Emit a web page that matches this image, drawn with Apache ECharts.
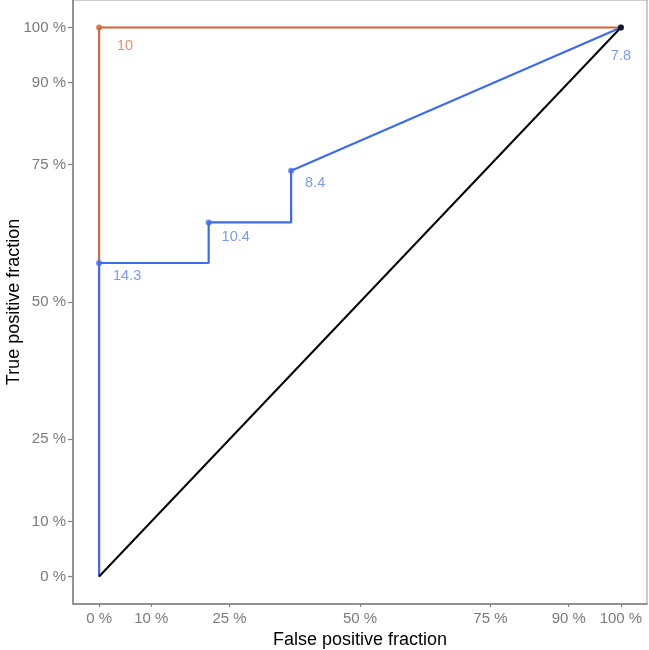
<!DOCTYPE html>
<html>
<head>
<meta charset="utf-8">
<script src="https://cdn.jsdelivr.net/npm/echarts@6/dist/echarts.min.js"></script>
<style>
  html, body { margin: 0; padding: 0; background: #fff; }
  #chart { width: 649px; height: 650px; }
</style>
</head>
<body>
<div id="chart"></div>
<script>
// ROC curves: false positive fraction (x) vs true positive fraction (y)
const redFpf = [0, 0, 1]
const redTpf = [0, 1, 1]
const blueFpf = [0, 0, 0.21, 0.21, 0.368, 0.368, 1]
const blueTpf = [0, 0.571, 0.571, 0.645, 0.645, 0.739, 1]
const diagFpf = [0, 1]
const diagTpf = [0, 1]

// cutoff points and their labels
const redCutFpf = [0]
const redCutTpf = [1]
const redCutLabels = ['10']
const blueCutFpf = [0, 0.21, 0.368, 1]
const blueCutTpf = [0.571, 0.645, 0.739, 1]
const blueCutLabels = ['14.3', '10.4', '8.4', '7.8']

const tickValues = [0, 0.1, 0.25, 0.5, 0.75, 0.9, 1]

const redColor = '#D8602F'
const blueColor = '#3D6BF0'

// label nudges (px, relative to point centre)
const redNudge = [[26, 19]]
const blueNudge = [[28, 13], [27, 15], [24, 12], [0, 29]]

const zip = (xs, ys) => xs.map((x, i) => [x, ys[i]])

const chart = echarts.init(document.getElementById('chart'))

const pctLabel = v => Math.round(v * 100) + ' %'

function makeAxis(name, gap, tickLen, margin) {
  return {
    type: 'value',
    min: -0.05,
    max: 1.05,
    name: name,
    nameLocation: 'middle',
    nameGap: gap,
    nameMoveOverlap: false,
    nameTextStyle: { color: '#000', fontSize: 18, fontFamily: 'Liberation Sans' },
    splitLine: { show: false },
    axisLine: { show: true, onZero: false, lineStyle: { color: '#808080', width: 1.5 } },
    axisTick: { show: true, length: tickLen, customValues: tickValues, lineStyle: { color: '#808080', width: 1.2 } },
    axisLabel: {
      customValues: tickValues,
      formatter: pctLabel,
      color: '#7a7a7a',
      fontSize: 15,
      fontFamily: 'Liberation Sans',
      margin: margin
    }
  }
}

function cutSeries(xs, ys, labels, nudge, color, labelColor) {
  return {
    type: 'scatter',
    symbolSize: 6,
    itemStyle: { color: color },
    z: 5,
    data: xs.map((x, i) => ({
      value: [x, ys[i]],
      label: {
        show: true,
        position: 'inside',
        offset: nudge[i],
        formatter: labels[i],
        color: labelColor,
        fontSize: 14.5,
        fontFamily: 'Liberation Sans'
      }
    }))
  }
}

chart.setOption({
  animation: false,
  grid: {
    left: 73,
    right: 2,
    top: 0,
    bottom: 46,
    containLabel: false,
    outerBoundsMode: 'none',
    show: true,
    borderColor: '#9a9a9a',
    borderWidth: 1
  },
  xAxis: makeAxis('False positive fraction', 27, 3, 7),
  yAxis: makeAxis('True positive fraction', 50, 5, 7),
  series: [
    {
      type: 'line',
      data: zip(redFpf, redTpf),
      showSymbol: false,
      lineStyle: { color: redColor, width: 2 },
      z: 2
    },
    {
      type: 'line',
      data: zip(blueFpf, blueTpf),
      showSymbol: false,
      lineStyle: { color: blueColor, width: 2.2 },
      z: 3
    },
    {
      type: 'line',
      data: zip(diagFpf, diagTpf),
      showSymbol: false,
      lineStyle: { color: '#000', width: 2 },
      z: 4
    },
    cutSeries(redCutFpf, redCutTpf, redCutLabels, redNudge, redColor, '#E07448'),
    cutSeries(blueCutFpf, blueCutTpf, blueCutLabels, blueNudge, blueColor, '#5A80F0'),
    {
      type: 'scatter',
      symbolSize: 6,
      itemStyle: { color: '#000' },
      z: 6,
      data: [[1, 1]]
    }
  ]
})
</script>
</body>
</html>
